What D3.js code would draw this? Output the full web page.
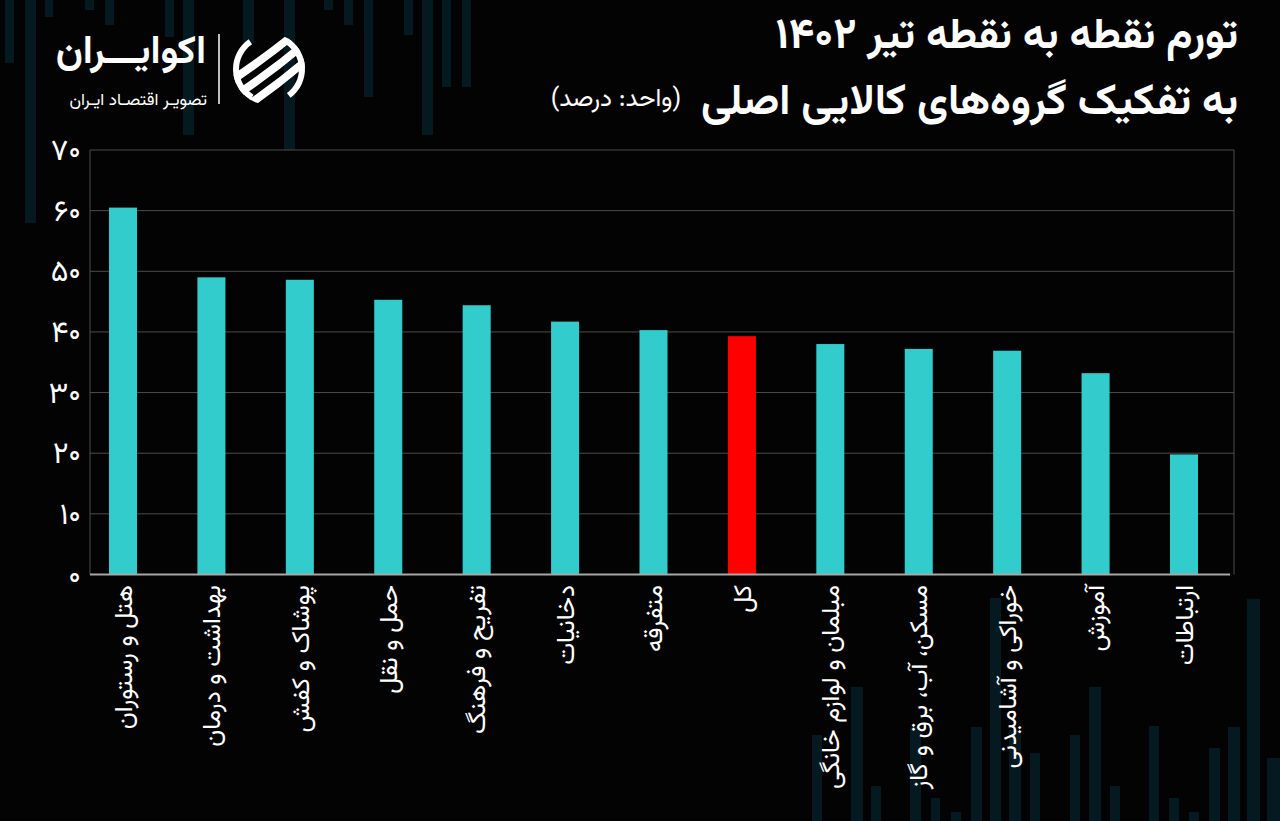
<!DOCTYPE html>
<html>
<head>
<meta charset="utf-8">
<script src="https://cdn.jsdelivr.net/npm/d3@7"></script>
<style>
  html, body { margin: 0; padding: 0; background: #030303; }
  svg { display: block; }
  text { font-family: "Vazirmatn", "Noto Sans Arabic", "DejaVu Sans", sans-serif; }
</style>
</head>
<body>
<svg id="chart" width="1280" height="821"></svg>
<script>
// ---- data ----
const categories = [
  "هتل و رستوران",
  "بهداشت و درمان",
  "پوشاک و کفش",
  "حمل و نقل",
  "تفریح و فرهنگ",
  "دخانیات",
  "متفرقه",
  "کل",
  "مبلمان و لوازم خانگی",
  "مسکن، آب، برق و گاز",
  "خوراکی و آشامیدنی",
  "آموزش",
  "ارتباطات"
];
const values = [60.5, 49.0, 48.6, 45.3, 44.4, 41.7, 40.3, 39.3, 38.0, 37.2, 36.9, 33.2, 19.8];
const highlight = ["کل"];
const yTicks = [0, 10, 20, 30, 40, 50, 60, 70];
const titleLine1 = "تورم نقطه به نقطه تیر ۱۴۰۲";
const titleLine2 = "به تفکیک گروه‌های کالایی اصلی";
const unitLabel = "(واحد: درصد)";
const brandName = "اکوایـــران";
const brandTag = "تصویـر اقتصـاد ایـران";
// decorative background stripes: [x, width, extent]
const decorTop = [[5,9,63],[25,11,223],[45,8,17],[85,9,10],[105,9,25],[165,9,37],[183,11,135],[243,11,43],[284,11,223],[324,9,10],[344,9,25],[364,9,97],[404,9,35],[422,11,135],[442,9,87],[462,9,87]];
const decorBottom = [[812,10,735],[851,12,687],[871,10,786],[910,11,727],[931,9,798],[951,10,812],[971,11,727],[990,11,598],[1009,12,730],[1030,10,753],[1070,10,735],[1089,12,687],[1110,10,786],[1149,10,726],[1169,10,798],[1189,10,812],[1209,11,748],[1228,12,727],[1247,13,599],[1267,13,758]];

const toFa = s => String(s).replace(/[0-9]/g, d => "۰۱۲۳۴۵۶۷۸۹"[d]);

// ---- layout ----
const W = 1280, H = 821;
const plotLeft = 90, plotRight = 1234, plotTop = 150, plotBottom = 574.5;
const svg = d3.select("#chart");
svg.append("rect").attr("width", W).attr("height", H).attr("fill", "#030303");

// decoration
const deco = svg.append("g").attr("fill", "#051a20");
deco.selectAll("rect.t").data(decorTop).join("rect")
  .attr("x", d => d[0]).attr("y", 0).attr("width", d => d[1]).attr("height", d => d[2]);
deco.selectAll("rect.b").data(decorBottom).join("rect")
  .attr("x", d => d[0]).attr("y", d => d[2]).attr("width", d => d[1]).attr("height", d => H - d[2]);

const y = d3.scaleLinear().domain([0, 70]).range([plotBottom, plotTop]);
const x = d3.scaleBand().domain(categories).range([78.8, 1228.2])
  .paddingInner(0.683).paddingOuter(0.3415);

// plot background over decoration
svg.append("rect").attr("x", plotLeft).attr("y", plotTop)
  .attr("width", plotRight - plotLeft).attr("height", plotBottom - plotTop).attr("fill", "#030303");

// gridlines
svg.append("g").selectAll("line").data(yTicks.filter(t => t > 0)).join("line")
  .attr("x1", plotLeft).attr("x2", plotRight)
  .attr("y1", d => y(d)).attr("y2", d => y(d))
  .attr("stroke", "#4d4d4d").attr("stroke-width", 1);
svg.append("line").attr("x1", plotLeft).attr("x2", plotLeft)
  .attr("y1", plotTop).attr("y2", plotBottom).attr("stroke", "#4d4d4d");
svg.append("line").attr("x1", plotRight).attr("x2", plotRight)
  .attr("y1", plotTop).attr("y2", plotBottom).attr("stroke", "#4d4d4d");

// y axis labels
const yAxis = d3.axisLeft(y).tickValues(yTicks).tickSize(0).tickPadding(10).tickFormat(toFa);
const gy = svg.append("g").attr("transform", `translate(${plotLeft},0)`).call(yAxis);
gy.select(".domain").remove();
gy.selectAll("text").attr("fill", "#fff").attr("font-size", 30).attr("x", -9);

// bars
svg.append("g").selectAll("rect").data(categories).join("rect")
  .attr("x", d => x(d)).attr("width", x.bandwidth())
  .attr("y", (d, i) => y(values[i])).attr("height", (d, i) => y(0) - y(values[i]))
  .attr("fill", d => highlight.includes(d) ? "#ff0000" : "#33cccc");

// baseline
svg.append("line").attr("x1", plotLeft).attr("x2", 1230)
  .attr("y1", plotBottom).attr("y2", plotBottom).attr("stroke", "#a8a8a8").attr("stroke-width", 2);

// category labels
svg.append("g").selectAll("text").data(categories).join("text")
  .attr("transform", d => `translate(${x(d) + x.bandwidth() / 2},585) rotate(-90)`)
  .attr("direction", "rtl").attr("text-anchor", "start")
  .attr("dy", "0.35em").attr("fill", "#fff").attr("font-size", 25)
  .text(d => d);

// titles
svg.append("text").attr("x", 1238).attr("y", 48).attr("direction", "rtl").attr("text-anchor", "start")
  .attr("fill", "#fff").attr("font-size", 43).attr("font-weight", "bold").text(titleLine1);
svg.append("text").attr("x", 1238).attr("y", 114).attr("direction", "rtl").attr("text-anchor", "start")
  .attr("fill", "#fff").attr("font-size", 43).attr("font-weight", "bold").text(titleLine2);
svg.append("text").attr("x", 681).attr("y", 106).attr("direction", "rtl").attr("text-anchor", "start")
  .attr("fill", "#fff").attr("font-size", 25).text(unitLabel);

// brand
svg.append("text").attr("x", 206).attr("y", 63).attr("direction", "rtl").attr("text-anchor", "start")
  .attr("fill", "#fff").attr("font-size", 39).attr("font-weight", "bold").text(brandName);
svg.append("text").attr("x", 207).attr("y", 105).attr("direction", "rtl").attr("text-anchor", "start")
  .attr("fill", "#fff").attr("font-size", 17).text(brandTag);
svg.append("line").attr("x1", 219).attr("x2", 219).attr("y1", 34).attr("y2", 104)
  .attr("stroke", "#fff").attr("stroke-width", 1.5);

// icon
const icon = svg.append("g").attr("transform", "translate(269,69)");
const defs = svg.append("defs");
defs.append("clipPath").attr("id", "iconClip").append("circle").attr("r", 36);
const ig = icon.append("g").attr("clip-path", "url(#iconClip)");
[-22, -4, 14].forEach(o => {
  ig.append("path")
    .attr("d", `M -40 ${o + 30} Q 0 ${o + 4} 40 ${o - 30} L 40 ${o - 20} Q 0 ${o + 14} -40 ${o + 40} Z`)
    .attr("fill", "#fff");
});
icon.append("path").attr("d", d3.arc()({innerRadius: 30, outerRadius: 36, startAngle: -2.6, endAngle: -0.6}))
  .attr("fill", "#fff");
icon.append("path").attr("d", d3.arc()({innerRadius: 30, outerRadius: 36, startAngle: 0.55, endAngle: 2.5}))
  .attr("fill", "#fff");
</script>
</body>
</html>
